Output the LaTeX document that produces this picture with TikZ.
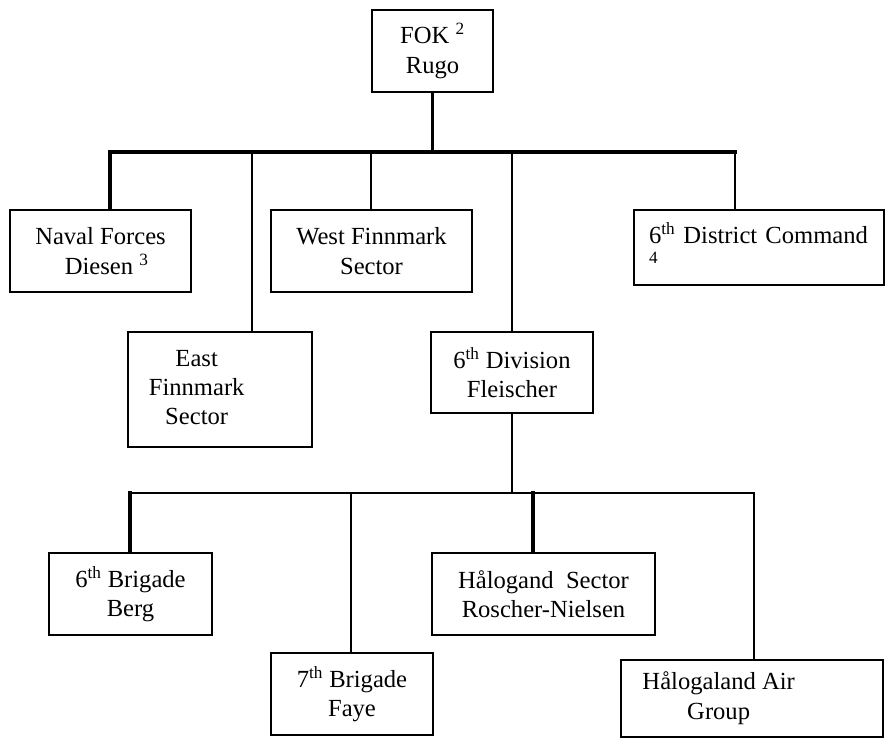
\documentclass[tikz,border=0pt]{standalone}
\usepackage{fontspec}
\setmainfont{Liberation Serif}
\newcommand{\unitfont}{\fontsize{21}{25}\selectfont}
\tikzset{
  unit node/.style={rectangle,draw,line width=1.7pt,align=center,inner sep=2pt,font=\unitfont},
  box size/.style 2 args={minimum width=#1*0.03cm,minimum height=#2*0.03cm},
  thick link/.style={line width=2.6pt,line cap=rect},
  mid link/.style={line width=1.7pt},
  thin link/.style={line width=1.2pt,line cap=rect}
}
\begin{document}
\begin{tikzpicture}[x=0.03cm,y=-0.03cm]%
  \useasboundingbox (0,0) rectangle (885,738);

  % top level
  \node[unit node,box size={121}{82}] (fok) at (432.5,51) {FOK \textsuperscript{2}\\Rugo};

  \node[unit node,box size={181}{82}] (naval) at (100.5,251) {Naval Forces\\\ \ Diesen \textsuperscript{3}};
  \node[unit node,box size={201}{82}] (west) at (371.5,251) {West Finnmark\\Sector};
  \node[unit node,box size={250}{75},align=left,text width=6.6cm,inner xsep=0.45cm] (district) at (759,247.5) {6\textsuperscript{th} District Command\\\textsuperscript{4}};
  \node[unit node,box size={184}{115}] (east) at (220,389.5) {\begin{tabular}{@{}c@{}}East\\Finnmark\\Sector\end{tabular}\hspace*{1.4cm}};
  \node[unit node,box size={162}{81}] (division) at (512,372.5) {6\textsuperscript{th} Division\\Fleischer};

  \coordinate (b1) at (110,152);
  \coordinate (b2) at (252,152);
  \coordinate (b3) at (371,152);
  \coordinate (b4) at (512,152);
  \coordinate (b5) at (735,152);
  \draw[thick link] (fok.south) -- (fok.south |- b1);
  \draw[thick link] (b1) -- (b5);
  \draw[thick link] (b1) -- (b1 |- naval.north);
  \draw[thin link] (b2) -- (b2 |- east.north);
  \draw[mid link] (b3) -- (b3 |- west.north);
  \draw[thin link] (b4) -- (division.north);
  \draw[mid link] (b5) -- (b5 |- district.north);

  % under the division
  \node[unit node,box size={163}{82}] (brig6) at (130.5,594) {6\textsuperscript{th} Brigade\\Berg};
  \node[unit node,box size={162}{82}] (brig7) at (352,694) {7\textsuperscript{th} Brigade\\Faye};
  \node[unit node,box size={223}{82}] (halsec) at (543.5,594) {Hålogand\ \ Sector\\Roscher-Nielsen};
  \node[unit node,box size={262}{77}] (halair) at (752,698.5) {\begin{tabular}{@{}c@{}}Hålogaland Air\\Group\end{tabular}\hspace*{2cm}};

  \coordinate (c1) at (130,493);
  \coordinate (c2) at (351,493);
  \coordinate (c3) at (533,493);
  \coordinate (c4) at (754,493);
  \draw[thin link] (division.south) -- (division.south |- c1);
  \draw[thin link] (c1) -- (c4);
  \draw[thick link] (c1) -- (c1 |- brig6.north);
  \draw[thin link] (c2) -- (c2 |- brig7.north);
  \draw[thick link] (c3) -- (c3 |- halsec.north);
  \draw[thin link] (c4) -- (c4 |- halair.north);
\end{tikzpicture}
\end{document}
